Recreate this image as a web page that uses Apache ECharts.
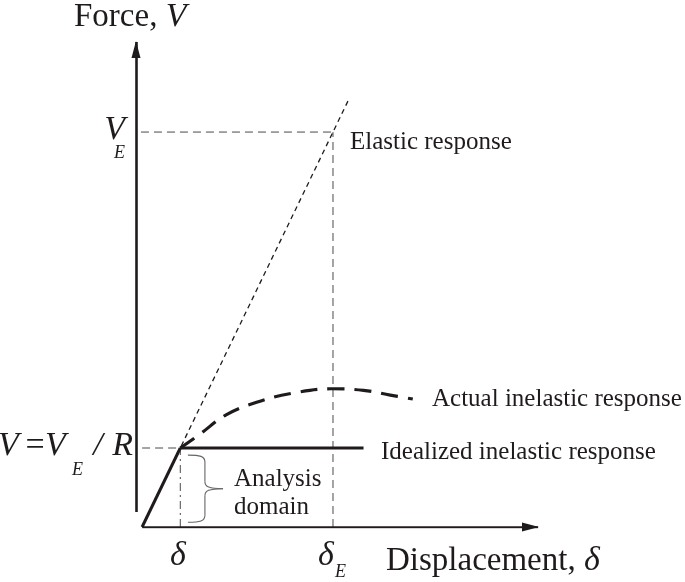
<!DOCTYPE html>
<html><head><meta charset="utf-8">
<script src="https://cdn.jsdelivr.net/npm/echarts@6/dist/echarts.min.js"></script>
<style>html,body{margin:0;padding:0;background:#fff}#c{width:685px;height:582px}</style>
</head><body><div id="c"></div>
<script>
// ---- Data (units: yield displacement delta = 1, design force V = V_E/R = 1, R = 5) ----
const yieldDisp = 1, yieldForce = 1;
const elasticDisp = 5, elasticForce = 5;
const elasticLine = [[0, 0], [5.4, 5.4]];
const initialBranch = [[0, 0], [1, 1]];
const idealizedBranch = [[1, 1], [5.8, 1]];
const actualInelastic = [[1, 1], [1.5, 1.17], [2.2, 1.42], [3.0, 1.58], [3.9, 1.69], [4.95, 1.75], [5.8, 1.73], [6.5, 1.67], [7.09, 1.62]];
const xAxisArrow = [[0, 0], [10.37, 0]];
const yAxisArrow = [[-0.16, 0.19], [-0.16, 6.14]];
const tickLabels = ['δ', 'δ', 'V', 'V'];
const seriesNames = ['Elastic response', 'Actual inelastic response', 'Idealized inelastic response'];

const chart = echarts.init(document.getElementById('c'), null, {renderer: 'canvas'});
const ink = '#1f1b1c';
const grey = '#4a4a4a';
const serif = 'Liberation Serif';

function refLine(data, dash) {
  return {type: 'line', data: data, symbol: 'none', silent: true, clip: false, z: 1,
    lineStyle: {color: grey, width: 1, type: dash}};
}

const option = {
  animation: false,
  backgroundColor: '#fff',
  grid: {left: 136, right: 147, top: 42, bottom: 55},
  xAxis: {type: 'value', min: -0.16, max: 10.37, show: false},
  yAxis: {type: 'value', min: 0, max: 6.14, show: false},
  series: [
    refLine([[-0.03, elasticForce], [elasticDisp, elasticForce]], [8, 5]),
    refLine([[elasticDisp, 0], [elasticDisp, elasticForce]], [8, 5]),
    refLine([[0, yieldForce], [yieldDisp, yieldForce]], [8, 5]),
    refLine([[yieldDisp, 0], [yieldDisp, yieldForce]], [8, 4, 2, 4]),
    {name: seriesNames[0], type: 'line', data: elasticLine, symbol: 'none', clip: false, z: 2,
      lineStyle: {color: ink, width: 1.3, type: [5, 4]}},
    {name: seriesNames[1], type: 'line', data: actualInelastic, symbol: 'none', smooth: 0.4, clip: false, z: 3,
      lineStyle: {color: ink, width: 3.2, type: [17, 10]}},
    {name: seriesNames[2], type: 'line', data: idealizedBranch, symbol: 'none', clip: false, z: 4,
      lineStyle: {color: ink, width: 3}},
    {type: 'line', data: initialBranch, symbol: 'none', clip: false, z: 4,
      lineStyle: {color: ink, width: 3}},
    {type: 'lines', coordinateSystem: 'cartesian2d', z: 5, silent: true, symbol: 'none',
      lineStyle: {color: ink, width: 2.6, opacity: 1},
      data: [{coords: xAxisArrow}, {coords: yAxisArrow}]}
  ]
};
chart.setOption(option);

// ---- annotations (arrowheads, brace, texts) ----
const P = (x, y) => chart.convertToPixel({gridIndex: 0}, [x, y]);
const xTip = P(xAxisArrow[1][0], xAxisArrow[1][1]);
const yTip = P(yAxisArrow[1][0], yAxisArrow[1][1]);
const headL = 16, headW = 4.5;
const arrowStyle = {fill: ink, stroke: 'none'};
const xHead = {type: 'polygon', silent: true, z: 11, style: arrowStyle,
  shape: {points: [[xTip[0] + 1, xTip[1]], [xTip[0] - headL, xTip[1] - headW], [xTip[0] - headL, xTip[1] + headW]]}};
const yHead = {type: 'polygon', silent: true, z: 11, style: arrowStyle,
  shape: {points: [[yTip[0], yTip[1] - 1], [yTip[0] - headW, yTip[1] + headL], [yTip[0] + headW, yTip[1] + headL]]}};

const bTop = P(1.2, 0.91), bBot = P(1.2, 0.06), bTip = P(2.12, 0.5);
const xl = bTop[0], xm = xl + 17, xt = bTip[0];
const yt = bTop[1], yb = bBot[1], ym = (yt + yb) / 2;
const braceStyle = {fill: 'none', stroke: '#666', lineWidth: 1.1};
function bz(x1, y1, c1x, c1y, c2x, c2y, x2, y2) {
  return {type: 'bezierCurve', silent: true, z: 10, style: braceStyle,
    shape: {x1: x1, y1: y1, cpx1: c1x, cpy1: c1y, cpx2: c2x, cpy2: c2y, x2: x2, y2: y2}};
}
function ln(x1, y1, x2, y2) {
  return {type: 'line', silent: true, z: 10, style: braceStyle, shape: {x1: x1, y1: y1, x2: x2, y2: y2}};
}

function txt(x, y, text, size, align, extra) {
  return {type: 'text', x: x, y: y, silent: true, z: 10,
    style: Object.assign({text: text, fontFamily: serif, fontSize: size, fill: ink,
      align: align || 'left', verticalAlign: 'middle'}, extra || {})};
}
const richIt = {i: {fontFamily: serif, fontStyle: 'italic', fontSize: 34, fill: ink}};
const I = {fontStyle: 'italic'};

chart.setOption({graphic: [
  xHead, yHead,
  bz(xl, yt, xl + 12, yt, xm, yt + 1, xm, yt + 7),
  ln(xm, yt + 7, xm, ym - 7),
  bz(xm, ym - 7, xm, ym - 2, xm + 4, ym, xt, ym),
  bz(xt, ym, xm + 4, ym, xm, ym + 2, xm, ym + 7),
  ln(xm, ym + 7, xm, yb - 7),
  bz(xm, yb - 7, xm, yb - 1, xl + 12, yb, xl, yb),
  txt(74, 17, 'Force, {i|V}', 33, 'left', {rich: richIt}),
  txt(125, 130, tickLabels[2], 34, 'right', I),
  txt(114, 153, 'E', 18, 'left', I),
  txt(-2, 446, tickLabels[3], 34, 'left', I),
  txt(35, 446, '=', 34, 'center'),
  txt(45, 446, tickLabels[3], 34, 'left', I),
  txt(72, 470, 'E', 18, 'left', I),
  txt(98, 446, '/', 34, 'center', I),
  txt(133, 446, 'R', 34, 'right', I),
  txt(178, 556, tickLabels[0], 34, 'center', I),
  txt(326, 556, tickLabels[1], 34, 'center', I),
  txt(335, 572, 'E', 18, 'left', I),
  txt(386, 561, 'Displacement, {i|δ}', 33, 'left', {rich: richIt}),
  txt(350, 142, seriesNames[0], 25),
  txt(432, 399, seriesNames[1], 25),
  txt(381, 452, seriesNames[2], 25),
  txt(234, 479, 'Analysis', 25),
  txt(234, 507, 'domain', 25)
]});
</script></body></html>
